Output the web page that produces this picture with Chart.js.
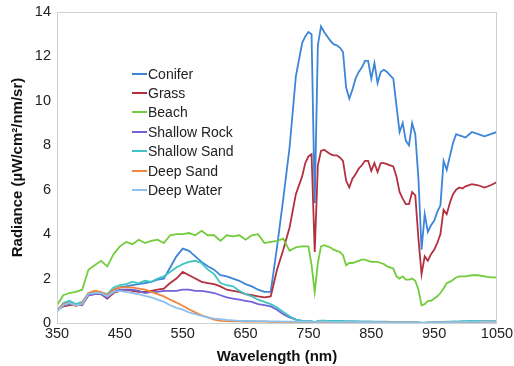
<!DOCTYPE html>
<html>
<head>
<meta charset="utf-8">
<script src="https://cdn.jsdelivr.net/npm/chart.js@4"></script>
<style>
    body { margin: 0; background: #fff; }
    #wrap { position: relative; width: 514px; height: 366px; }
    #legend {
        position: absolute;
        left: 132px;
        top: 64px;
        font-family: 'Liberation Sans', Arial, sans-serif;
        font-size: 14px;
        color: #222;
    }
    .legend-item { height: 19.4px; display: flex; align-items: center; }
    .legend-line { width: 15px; height: 2px; margin-right: 1px; }
</style>
</head>
<body>
<div id="wrap">
    <canvas id="radianceChart" width="514" height="366"></canvas>
    <div id="legend"></div>
</div>
<script>
// Wavelength samples (nm): 10 nm steps in the visible, 5 nm through the NIR features
const wavelengths = [
    350, 360, 370, 380, 390, 400, 410, 420, 430, 440, 450, 460, 470, 480, 490, 500, 510, 520, 530, 540,
    550, 560, 570, 580, 590, 600, 610, 620, 630, 640, 650, 660, 670, 680, 690, 700, 710, 720, 730, 740,
    745, 750, 755, 760, 765, 770, 775, 780, 785, 790, 795, 800, 805, 810, 815, 820, 825, 830, 835, 840,
    845, 850, 855, 860, 865, 870, 875, 880, 885, 890, 895, 900, 905, 910, 915, 920, 925, 930, 935, 940,
    945, 950, 955, 960, 965, 970, 975, 980, 985, 990, 995, 1000, 1010, 1020, 1030, 1040, 1050
];

const seriesNames = ['Conifer', 'Grass', 'Beach', 'Shallow Rock', 'Shallow Sand', 'Deep Sand', 'Deep Water'];
const seriesColors = ['#3d85d8', '#b33040', '#72cc3c', '#7163d6', '#40c4c4', '#f0873a', '#8ec0ee'];

// Radiance values (µW/cm²/nm/sr)
const conifer = [
    0.55, 0.85, 0.95, 0.8, 0.9, 1.3, 1.35, 1.35, 1.3, 1.5, 1.6, 1.65, 1.7, 1.75, 1.8, 1.85, 1.95, 2.0, 2.5, 3.0,
    3.35, 3.25, 3.0, 2.75, 2.55, 2.4, 2.15, 2.1, 2.0, 1.9, 1.75, 1.65, 1.5, 1.4, 1.4, 3.4, 5.6, 7.9, 11.1, 12.6,
    12.9, 13.1, 13.0, 5.4, 12.5, 13.35, 13.1, 12.9, 12.7, 12.55, 12.5, 12.4, 12.2, 10.6, 10.1, 10.5, 11.0, 11.3, 11.5, 11.8,
    11.8, 11.0, 11.7, 10.8, 11.3, 11.4, 11.3, 11.15, 11.0, 9.8, 8.6, 9.0, 8.2, 8.0, 9.0, 8.5, 6.5, 3.3, 4.9, 4.1,
    4.4, 4.6, 5.0, 5.3, 7.3, 6.9, 7.5, 8.1, 8.5, 8.45, 8.4, 8.35, 8.6, 8.5, 8.4, 8.5, 8.6
];
const grass = [
    0.6, 0.75, 0.8, 0.85, 0.8, 1.25, 1.3, 1.3, 1.1, 1.35, 1.45, 1.5, 1.45, 1.4, 1.4, 1.45, 1.5, 1.55, 1.8, 2.0,
    2.3, 2.15, 2.0, 1.85, 1.8, 1.75, 1.65, 1.5, 1.45, 1.4, 1.3, 1.25, 1.2, 1.15, 1.2, 2.4, 3.3, 4.3, 5.8, 6.6,
    7.2, 7.5, 7.6, 3.2, 7.1, 7.75, 7.8, 7.7, 7.6, 7.55, 7.55, 7.45, 7.3, 6.4, 6.1, 6.5, 6.7, 6.95, 7.1, 7.3,
    7.3, 6.85, 7.2, 6.8, 7.2, 7.2, 7.15, 7.1, 7.05, 6.6, 5.9, 5.6, 5.35, 5.35, 5.9, 5.75, 3.8, 2.2, 3.0, 2.8,
    3.1, 3.3, 3.6, 4.0, 5.1, 4.9, 5.4, 5.8, 6.0, 6.1, 6.05, 6.15, 6.25, 6.2, 6.1, 6.2, 6.35
];
const beach = [
    0.8, 1.25, 1.35, 1.4, 1.5, 2.4, 2.6, 2.8, 2.55, 3.1, 3.45, 3.65, 3.55, 3.75, 3.6, 3.7, 3.75, 3.6, 3.95, 4.0,
    4.0, 4.05, 3.95, 4.15, 3.95, 3.95, 3.7, 3.95, 3.9, 3.95, 3.75, 3.95, 4.0, 3.6, 3.65, 3.7, 3.8, 3.25, 3.4, 3.45,
    3.45, 3.45, 2.6, 1.4, 2.7, 3.45, 3.5, 3.45, 3.4, 3.3, 3.25, 3.2, 3.05, 2.6, 2.7, 2.7, 2.75, 2.8, 2.85, 2.85,
    2.8, 2.75, 2.75, 2.75, 2.7, 2.65, 2.55, 2.5, 2.45, 2.1, 2.0, 2.1, 1.95, 1.95, 2.0, 1.9, 1.5, 0.8, 0.85, 1.0,
    1.0, 1.1, 1.2, 1.35, 1.55, 1.8, 1.85, 1.95, 2.05, 2.1, 2.1, 2.1, 2.15, 2.15, 2.1, 2.05, 2.05
];
const shallowRock = [
    0.55, 0.8, 0.85, 0.8, 0.85, 1.25, 1.3, 1.3, 1.15, 1.4, 1.5, 1.5, 1.5, 1.45, 1.35, 1.4, 1.4, 1.45, 1.45, 1.45,
    1.5, 1.5, 1.45, 1.45, 1.4, 1.35, 1.25, 1.15, 1.1, 1.05, 1.0, 0.95, 0.85, 0.8, 0.75, 0.6, 0.4, 0.25, 0.15, 0.1,
    0.09, 0.08, 0.07, 0.02, 0.08, 0.09, 0.09, 0.08, 0.08, 0.08, 0.07, 0.07, 0.07, 0.06, 0.06, 0.06, 0.06, 0.06, 0.05, 0.05,
    0.05, 0.05, 0.05, 0.05, 0.05, 0.04, 0.04, 0.04, 0.04, 0.04, 0.04, 0.04, 0.03, 0.03, 0.03, 0.03, 0.02, 0.01, 0.01, 0.02,
    0.02, 0.03, 0.03, 0.03, 0.04, 0.04, 0.05, 0.05, 0.05, 0.05, 0.06, 0.06, 0.06, 0.07, 0.07, 0.07, 0.08
];
const shallowSand = [
    0.5, 0.9, 1.0, 0.85, 0.95, 1.35, 1.4, 1.35, 1.3, 1.6, 1.7, 1.75, 1.85, 1.8, 1.9, 1.85, 2.0, 2.1, 2.3, 2.5,
    2.65, 2.75, 2.8, 2.7, 2.4, 2.2, 1.8, 1.7, 1.65, 1.45, 1.3, 1.2, 1.05, 0.95, 0.85, 0.7, 0.5, 0.3, 0.15, 0.1,
    0.1, 0.09, 0.08, 0.03, 0.1, 0.11, 0.11, 0.1, 0.1, 0.1, 0.09, 0.09, 0.09, 0.08, 0.08, 0.08, 0.08, 0.07, 0.07, 0.07,
    0.07, 0.07, 0.06, 0.06, 0.06, 0.06, 0.06, 0.05, 0.05, 0.05, 0.05, 0.05, 0.05, 0.04, 0.04, 0.04, 0.03, 0.02, 0.02, 0.03,
    0.03, 0.04, 0.04, 0.05, 0.05, 0.06, 0.06, 0.07, 0.07, 0.07, 0.08, 0.08, 0.09, 0.09, 0.09, 0.1, 0.1
];
const deepSand = [
    0.6, 0.85, 0.9, 0.75, 0.9, 1.35, 1.45, 1.4, 1.25, 1.5, 1.6, 1.6, 1.6, 1.55, 1.5, 1.4, 1.3, 1.2, 1.05, 0.92,
    0.78, 0.62, 0.48, 0.35, 0.25, 0.15, 0.1, 0.08, 0.07, 0.07, 0.06, 0.06, 0.06, 0.06, 0.05, 0.05, 0.05, 0.05, 0.05, 0.05,
    0.05, 0.05, 0.05, 0.02, 0.05, 0.05, 0.05, 0.05, 0.05, 0.05, 0.05, 0.05, 0.05, 0.05, 0.04, 0.04, 0.04, 0.04, 0.04, 0.04,
    0.04, 0.04, 0.04, 0.04, 0.04, 0.04, 0.04, 0.03, 0.03, 0.03, 0.03, 0.03, 0.03, 0.03, 0.03, 0.03, 0.02, 0.01, 0.01, 0.02,
    0.02, 0.02, 0.03, 0.03, 0.03, 0.03, 0.04, 0.04, 0.04, 0.04, 0.05, 0.05, 0.05, 0.05, 0.06, 0.06, 0.06
];
const deepWater = [
    0.55, 0.8, 0.9, 0.8, 0.85, 1.3, 1.35, 1.35, 1.2, 1.4, 1.45, 1.4, 1.35, 1.3, 1.22, 1.15, 1.05, 0.95, 0.8, 0.68,
    0.6, 0.48, 0.4, 0.32, 0.25, 0.2, 0.17, 0.14, 0.12, 0.1, 0.1, 0.09, 0.08, 0.08, 0.07, 0.07, 0.06, 0.06, 0.06, 0.06,
    0.06, 0.06, 0.05, 0.02, 0.06, 0.06, 0.06, 0.06, 0.05, 0.05, 0.05, 0.05, 0.05, 0.05, 0.05, 0.05, 0.05, 0.04, 0.04, 0.04,
    0.04, 0.04, 0.04, 0.04, 0.04, 0.04, 0.03, 0.03, 0.03, 0.03, 0.03, 0.03, 0.03, 0.03, 0.03, 0.03, 0.02, 0.01, 0.01, 0.02,
    0.02, 0.02, 0.03, 0.03, 0.03, 0.04, 0.04, 0.04, 0.04, 0.05, 0.05, 0.05, 0.05, 0.06, 0.06, 0.06, 0.06
];

const seriesValues = [conifer, grass, beach, shallowRock, shallowSand, deepSand, deepWater];

// Plot-area frame (light outline round the chart area)
const plotFrame = {
    id: 'plotFrame',
    afterDraw(chart) {
        const { ctx, chartArea: a } = chart;
        ctx.save();
        ctx.strokeStyle = '#c6d3d1';
        ctx.lineWidth = 1;
        ctx.strokeRect(a.left + 0.5, a.top + 0.5, a.right - a.left - 1, a.bottom - a.top);
        ctx.restore();
    }
};

const labelFont = { family: "'Liberation Sans', Arial, sans-serif", size: 14.5 };
const titleFont = { family: "'Liberation Sans', Arial, sans-serif", size: 15, weight: 'bold' };

const datasets = seriesNames.map((name, i) => ({
    label: name,
    data: wavelengths.map((w, j) => ({ x: w, y: seriesValues[i][j] })),
    borderColor: seriesColors[i],
    backgroundColor: seriesColors[i],
    borderWidth: 1.8,
    pointRadius: 0,
    tension: 0,
    order: seriesNames.length - i
}));

new Chart(document.getElementById('radianceChart'), {
    type: 'line',
    data: { datasets },
    options: {
        responsive: false,
        animation: false,
        devicePixelRatio: 1,
        layout: { padding: { left: 0, right: 17, top: 12, bottom: 0 } },
        plugins: {
            legend: { display: false },
            tooltip: { enabled: false }
        },
        scales: {
            x: {
                type: 'linear',
                min: 350,
                max: 1050,
                grid: { display: false, drawTicks: false },
                border: { display: false },
                ticks: {
                    stepSize: 100,
                    color: '#222',
                    font: labelFont,
                    padding: 2,
                    maxRotation: 0,
                    callback: (value) => String(value)
                },
                title: { display: true, text: 'Wavelength (nm)', color: '#111', font: titleFont, padding: { top: 0, bottom: 0 } },
                afterFit: (scale) => {
                    scale.height = 43;
                    scale.paddingLeft = 0;
                    scale.paddingRight = 0;
                }
            },
            y: {
                min: 0,
                max: 14,
                grid: { display: false, drawTicks: false },
                border: { display: false },
                ticks: { stepSize: 2, color: '#222', font: labelFont, padding: 6 },
                title: { display: true, text: 'Radiance (µW/cm²/nm/sr)', color: '#111', font: titleFont, padding: { top: 9, bottom: 0 } },
                afterFit: (scale) => {
                    scale.width = 57;
                    scale.paddingTop = 0;
                    scale.paddingBottom = 0;
                }
            }
        }
    },
    plugins: [plotFrame]
});

// Legend placed inside the plot area
const legend = document.getElementById('legend');
seriesNames.forEach((name, i) => {
    const item = document.createElement('div');
    item.className = 'legend-item';
    item.innerHTML = `<span class="legend-line" style="background: ${seriesColors[i]}"></span><span>${name}</span>`;
    legend.appendChild(item);
});
</script>
</body>
</html>
